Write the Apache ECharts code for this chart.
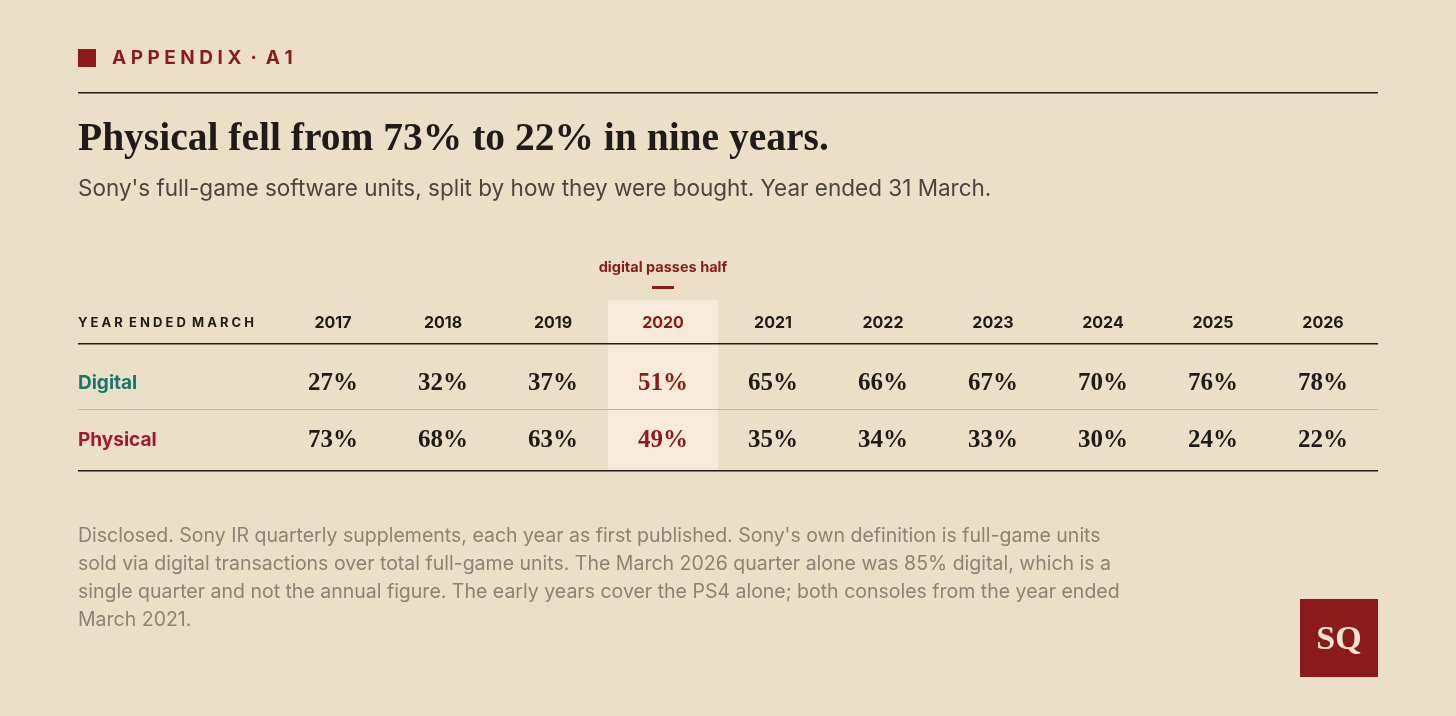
<!DOCTYPE html>
<html><head><meta charset="utf-8">
<script src="https://cdn.jsdelivr.net/npm/echarts@6/dist/echarts.min.js"></script>
<style>html,body{margin:0;padding:0;background:#ecdfc7}#c{width:1456px;height:716px}</style>
</head><body><div id="c"></div>
<script>
const years = ['2017','2018','2019','2020','2021','2022','2023','2024','2025','2026'];
const rows = ['Digital','Physical'];
const digital = [27,32,37,51,65,66,67,70,76,78];
const physical = [73,68,63,49,35,34,33,30,24,22];
const highlightYear = '2020';
const RED = '#8b1a1a', INK = '#1e1b18';
const SERIF = '"Liberation Serif","DejaVu Serif",serif';
const SANS = 'Inter,"Noto Sans",sans-serif';

const data = [];
years.forEach((y,i)=>{ data.push([i,0,digital[i]]); data.push([i,1,physical[i]]); });
const hi = years.indexOf(highlightYear);

const chart = echarts.init(document.getElementById('c'));
chart.setOption({
  backgroundColor:'#ecdfc7',
  animation:false,
  grid:{left:278,right:78,top:355,bottom:247},
  xAxis:{type:'category',data:years,position:'top',
    axisLine:{show:false},axisTick:{show:false},splitLine:{show:false},
    axisLabel:{margin:24,fontFamily:SANS,fontWeight:'bold',fontSize:16,
      color:(v)=> v===highlightYear?RED:INK}},
  yAxis:{type:'category',data:rows,inverse:true,
    axisLine:{show:false},axisTick:{show:false},splitLine:{show:false},
    axisLabel:{margin:200,align:'left',fontFamily:SANS,fontWeight:'bold',fontSize:19,
      color:(v)=> v==='Digital'?'#17776a':'#a3182e'}},
  series:[
    {type:'scatter',symbolSize:1,data:data.map(d=>({value:d,label:{color:d[0]===hi?RED:INK}})),z:5,
     itemStyle:{color:'#ecdfc7',opacity:1},
     label:{show:true,position:'inside',opacity:1,fontFamily:SERIF,fontWeight:'bold',fontSize:25,
       formatter:p=>p.value[2]+'%'}}
  ],
  graphic:[
    {type:'rect',shape:{x:608,y:300,width:110,height:171},style:{fill:'#f6ebd8'},z:-1},
    {type:'rect',shape:{x:78,y:49,width:18,height:18},style:{fill:RED}},
    {type:'text',x:112,y:58,style:{text:'A P P E N D I X  ·  A 1',fill:RED,font:'bold 19px '+SANS,verticalAlign:'middle'}},
    {type:'rect',shape:{x:78,y:92,width:1300,height:1.5},style:{fill:INK}},
    {type:'text',x:78,y:140,style:{text:'Physical fell from 73% to 22% in nine years.',fill:INK,font:'bold 39.5px '+SERIF,verticalAlign:'middle'}},
    {type:'text',x:78,y:189,style:{text:"Sony's full-game software units, split by how they were bought. Year ended 31 March.",fill:'#4a4540',font:'22.5px '+SANS,verticalAlign:'middle'}},
    {type:'text',x:663,y:268,style:{text:'digital passes half',fill:RED,font:'bold 14.5px '+SANS,align:'center',verticalAlign:'middle'}},
    {type:'rect',shape:{x:652,y:286,width:22,height:3},style:{fill:RED}},
    {type:'text',x:78,y:323,style:{text:'Y E A R  E N D E D  M A R C H',fill:INK,font:'bold 13px '+SANS,verticalAlign:'middle'}},
    {type:'rect',shape:{x:78,y:343,width:1300,height:1.5},style:{fill:INK}},
    {type:'rect',shape:{x:78,y:409,width:1300,height:1},style:{fill:'#c2b59d'}},
    {type:'rect',shape:{x:78,y:470,width:1300,height:1.5},style:{fill:INK}},
    {type:'text',x:78,y:522,style:{text:"Disclosed. Sony IR quarterly supplements, each year as first published. Sony's own definition is full-game units\nsold via digital transactions over total full-game units. The March 2026 quarter alone was 85% digital, which is a\nsingle quarter and not the annual figure. The early years cover the PS4 alone; both consoles from the year ended\nMarch 2021.",fill:'#8c8276',font:'19.5px '+SANS,lineHeight:28}},
    {type:'rect',shape:{x:1300,y:599,width:78,height:78},style:{fill:RED}},
    {type:'text',x:1339,y:640,style:{text:'SQ',fill:'#f3e6d0',font:'bold 34px '+SERIF,align:'center',verticalAlign:'middle'}}
  ]
});
</script></body></html>
